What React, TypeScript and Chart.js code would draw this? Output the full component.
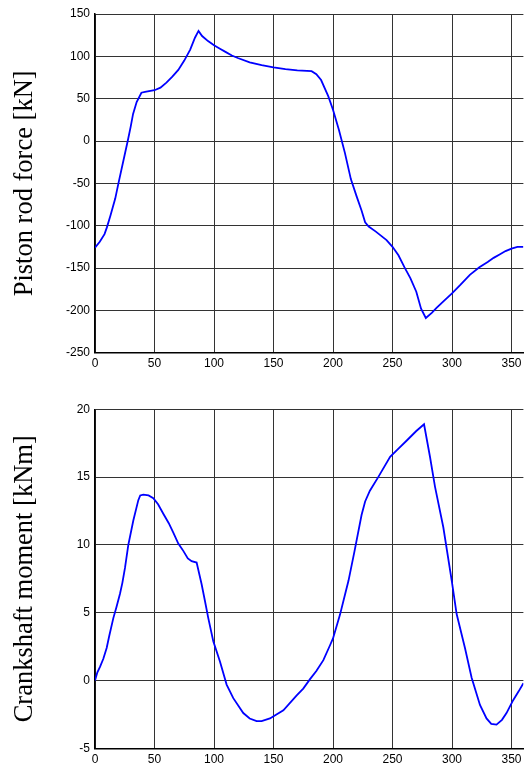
import React, { useEffect, useRef } from 'react';
import { Chart, registerables } from 'chart.js';

Chart.register(...registerables);

// Crank angle [deg] and piston rod force [kN]
const forceAngles = [0, 4, 8, 10, 13, 15, 17, 20, 25, 27.5, 30, 32, 35, 39, 42, 50, 55, 60, 65, 70, 75, 80, 84, 87, 90, 95, 100, 105, 110, 115, 120, 130, 140, 150, 160, 170, 182, 186, 190, 196, 200, 205, 210, 215, 220, 224, 227, 230, 236, 245, 250, 255, 260, 265, 270, 274, 278, 283, 287, 293, 300, 307, 315, 323, 330, 335, 340, 345, 350, 355, 360];
const forceValues = [-126, -119, -110, -102, -88, -78, -68, -48, -16, 0, 17, 32, 46, 57, 58, 60, 63, 69, 76, 84, 95, 108, 122, 130, 124, 118, 113, 109, 105, 101, 98, 93, 89.5, 87, 85, 83.5, 82.5, 79, 72, 53, 37, 13, -14, -45, -66, -82, -96, -101, -107, -117, -125, -135, -149, -162, -178, -198, -209, -203, -197, -189, -180, -170, -158, -149, -143, -138, -134, -130, -127, -125, -125];

// Crank angle [deg] and crankshaft moment [kNm]
const momentAngles = [0, 2, 4.2, 7, 9.8, 12, 15.4, 18, 21, 23, 25.2, 28, 32.2, 36.4, 38, 40.6, 45, 49, 53, 57.4, 62, 65.8, 70, 74.2, 78, 81.2, 85.4, 89.6, 92.4, 95.2, 99.4, 105, 110.6, 116.2, 124.6, 130, 135.8, 140, 147, 158.3, 169.5, 175, 180.7, 186, 191.9, 197.5, 200, 205.9, 210, 213, 218, 224, 227, 231, 238, 248, 255, 262, 270, 276.5, 281.5, 285.7, 292.7, 299.8, 303.9, 310.9, 316.5, 323.5, 329, 333, 337.4, 342, 345.8, 351.4, 356, 360];
const momentValues = [0, 0.6, 1.0, 1.6, 2.4, 3.3, 4.6, 5.4, 6.4, 7.2, 8.3, 10.0, 11.8, 13.3, 13.65, 13.7, 13.65, 13.45, 13.0, 12.3, 11.6, 10.9, 10.1, 9.56, 9.0, 8.8, 8.7, 7.1, 5.86, 4.6, 2.9, 1.4, -0.3, -1.3, -2.4, -2.8, -3.0, -3.0, -2.8, -2.2, -1.1, -0.6, 0.1, 0.7, 1.5, 2.6, 3.1, 4.86, 6.3, 7.35, 9.5, 12.2, 13.2, 14.0, 15.0, 16.5, 17.1, 17.7, 18.4, 18.9, 16.5, 14.3, 11.3, 7.35, 4.9, 2.4, 0.2, -1.8, -2.8, -3.2, -3.25, -2.9, -2.4, -1.45, -0.8, -0.2];

const xTicks = [0, 50, 100, 150, 200, 250, 300, 350];
const forceTicks = [-250, -200, -150, -100, -50, 0, 50, 100, 150];
const momentTicks = [-5, 0, 5, 10, 15, 20];

const forceTitle = 'Piston rod force [kN]';
const momentTitle = 'Crankshaft moment [kNm]';

const tickFont = { family: '"Liberation Sans", Arial, sans-serif', size: 12 };
const titleFont = { family: '"Liberation Serif", "Times New Roman", serif', size: 26.5, lineHeight: 1.2 };

function makeConfig(
  angles: number[],
  values: number[],
  yTicks: number[],
  title: string,
  padTop: number,
  xAxisHeight: number
): any {
  const yMin = yTicks[0];
  const yMax = yTicks[yTicks.length - 1];
  return {
    type: 'line',
    data: {
      datasets: [
        {
          data: angles.map((a, i) => ({ x: a, y: values[i] })),
          borderColor: '#0000ff',
          borderWidth: 1.8,
          pointRadius: 0,
          fill: false,
          tension: 0,
        },
      ],
    },
    options: {
      animation: false,
      responsive: false,
      devicePixelRatio: 1,
      layout: { padding: { top: padTop, left: 0, right: 0.6, bottom: 0 } },
      plugins: { legend: { display: false }, tooltip: { enabled: false }, title: { display: false } },
      scales: {
        x: {
          type: 'linear',
          min: 0,
          max: 360,
          afterBuildTicks: (s: any) => {
            s.ticks = xTicks.map((v) => ({ value: v }));
          },
          afterFit: (s: any) => {
            s.height = xAxisHeight;
            s.paddingLeft = 0;
            s.paddingRight = 0;
          },
          ticks: { font: tickFont, color: '#000', padding: 4, maxRotation: 0, autoSkip: false },
          grid: { color: '#333', lineWidth: 1, drawTicks: false },
          border: { display: true, color: '#000', width: 1.5 },
        },
        y: {
          type: 'linear',
          min: yMin,
          max: yMax,
          afterBuildTicks: (s: any) => {
            s.ticks = yTicks.map((v) => ({ value: v }));
          },
          afterFit: (s: any) => {
            s.width = 95;
            s.paddingTop = 0;
            s.paddingBottom = 0;
          },
          ticks: { font: tickFont, color: '#000', padding: 5, autoSkip: false },
          grid: { color: '#333', lineWidth: 1, drawTicks: false },
          border: { display: true, color: '#000', width: 1.5 },
          title: {
            display: true,
            text: title,
            color: '#000',
            font: titleFont,
            padding: { top: 9, bottom: 0 },
          },
        },
      },
    },
  };
}

function PlotCanvas(props: {
  top: number;
  height: number;
  angles: number[];
  values: number[];
  yTicks: number[];
  title: string;
  padTop: number;
  xAxisHeight: number;
}) {
  const ref = useRef<HTMLCanvasElement | null>(null);
  useEffect(() => {
    if (!ref.current) return;
    const chart = new Chart(
      ref.current,
      makeConfig(props.angles, props.values, props.yTicks, props.title, props.padTop, props.xAxisHeight)
    );
    return () => chart.destroy();
  }, []);
  return (
    <canvas
      ref={ref}
      width={524}
      height={props.height}
      style={{ position: 'absolute', left: 0, top: props.top, width: 524, height: props.height, display: 'block' }}
    />
  );
}

export default function App() {
  return (
    <div style={{ position: 'absolute', left: 0, top: 0, width: 524, height: 767, background: '#fff', overflow: 'hidden' }}>
      <PlotCanvas
        top={0}
        height={385}
        angles={forceAngles}
        values={forceValues}
        yTicks={forceTicks}
        title={forceTitle}
        padTop={14}
        xAxisHeight={32.3}
      />
      <PlotCanvas
        top={385}
        height={382}
        angles={momentAngles}
        values={momentValues}
        yTicks={momentTicks}
        title={momentTitle}
        padTop={24.3}
        xAxisHeight={18.7}
      />
    </div>
  );
}
